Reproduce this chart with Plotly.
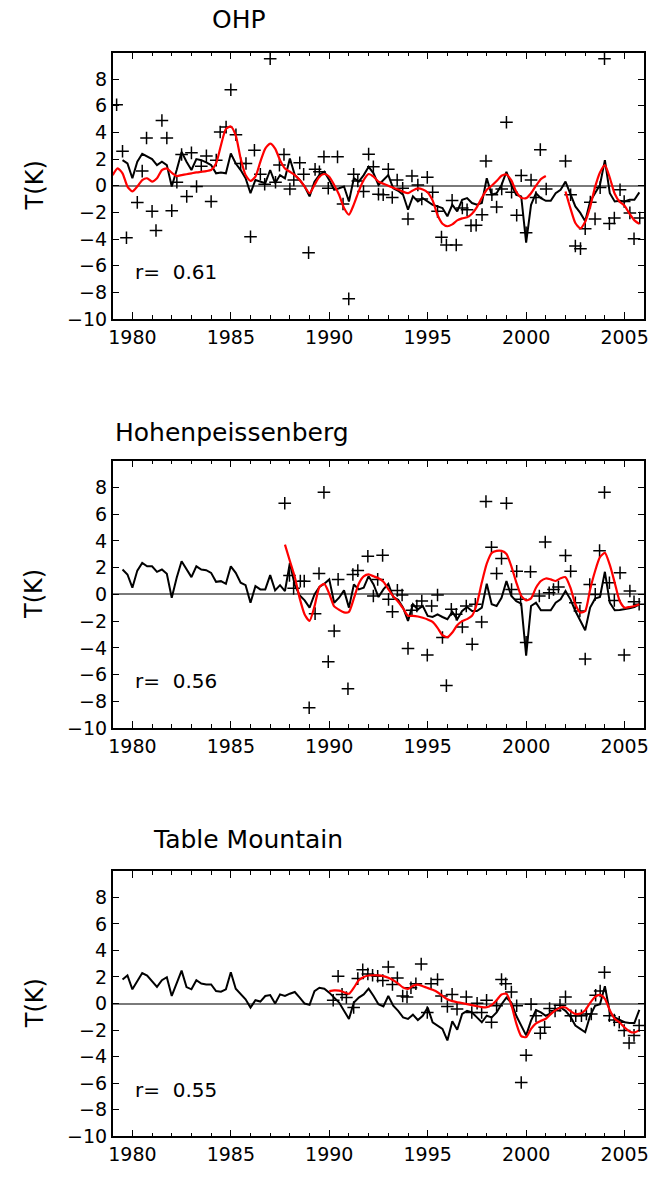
import numpy as np
import plotly.graph_objects as go

# ---------------- DATA ----------------
station_names = ["OHP", "Hohenpeissenberg", "Table Mountain"]
r_values = ["0.61", "0.56", "0.55"]

model_start = 1979.5
model_step = 0.25

ohp_model = [1.92, 1.67, 0.56, 1.8, 2.4, 2.17, 2.0, 1.55, 1.8, 1.55, -0.06, 1.18, 2.54, 1.8, 1.18, 2.0,
             1.92, 1.75, 1.55, 0.93, 1.0, 0.93, 2.42, 1.67, 1.18, 0.56, -0.56, 0.43, 0.31, 0.19, 1.18, 0.19,
             0.8, 0.56, 2.04, 0.8, 0.43, -0.06, -0.8, 0.31, 0.8, 1.05, 0.43, -0.3, -0.19, -0.06, -1.18, 0.56,
             0.31, 0.8, 1.42, 0.93, 0.06, 0.43, 0.8, -0.19, -0.38,
             -0.68, -1.8, -0.8, -1.18, -0.93, -1.18, -1.43, -1.55, -1.67, -2.29, -1.43, -1.92, -1.05, -0.93,
             -1.3, -1.43, -1.3, 0.56, -0.68, -0.56, 0.06, 1.05, 0.06, -0.68, -0.8, -4.27, -1.43, -0.56, -0.93,
             -1.13, -1.13, -0.56, -0.3, 0.31, -0.56, -1.55, -2.04, -2.66, -1.18, -0.56, 0.06, 1.92, -0.56,
             -1.18, -1.13, -1.18, -1.05, -1.05, -0.5]

hoh_model = [1.86, 1.49, 0.5, 1.78, 2.35, 2.1, 2.1, 1.69, 1.86, 1.54, -0.25, 1.24, 2.48, 1.91, 1.29, 2.1,
             1.86, 1.81, 1.61, 0.94, 0.99, 0.79, 2.1, 1.61, 0.87, 0.69, -0.62, 0.62, 0.37, 0.37, 1.44, 0.3,
             0.69, 0.25, 2.35, 0.69, -0.07, -0.45, -0.99, 0.0, 0.55, 0.79, 1.12, -0.62, -0.25, 0.3, -0.99,
             0.74, 0.37, 0.5, 1.36, 0.74, -0.2, 0.37, 0.79, -0.2, -0.4,
             -0.99, -1.98, -0.74, -1.12, -0.87, -1.61, -1.69, -1.49, -1.69, -1.86, -1.31, -1.86, -1.24, -0.94,
             -1.24, -1.24, -0.99, 0.79, -0.74, -0.87, -0.25, 0.99, -0.12, -0.5, -0.69, -4.58, -0.87, -0.62,
             -1.19, -1.19, -1.19, -0.62, -0.37, 0.25, -0.37, -1.24, -1.98, -2.68, -0.99, -0.32, -0.2, 1.69,
             -0.62, -1.19, -1.16, -1.12, -1.04, -0.94, -0.74]

tm_model = [1.81, 2.11, 1.07, 1.64, 2.3, 2.11, 1.69, 1.26, 1.76, 1.98, 0.57, 1.56, 2.48, 1.24, 1.07, 1.76,
            1.51, 1.44, 1.44, 0.94, 0.89, 1.07, 2.35, 1.12, 0.69, 0.32, -0.3, 0.25, 0.15, 0.57, 0.64, 0.0,
            0.69, 0.57, 0.74, 0.87, 0.45, 0.0, -0.1, 0.94, 1.19, 1.12, 0.82, 0.45, 0.07, -0.55, -1.16, 0.07,
            0.45, 0.69, 1.12, 0.57, -0.05, -0.22, 0.57, -0.17, -0.55,
            -1.04, -1.16, -0.84, -1.24, -0.92, -0.3, -1.41, -1.66, -1.91, -2.78, -1.34, -1.98, -0.79, -0.55,
            -0.67, -1.04, -1.41, -0.92, -1.04, -0.67, -0.05, 0.45, 0.07, -0.92, -1.66, -2.4, -1.29, -0.5,
            -0.67, -0.92, -0.74, -0.42, -0.3, -0.55, -0.99, -1.66, -1.91, -2.16, -0.92, -0.17, -0.05, 1.31,
            -0.67, -1.04, -1.24, -1.41, -1.46, -1.46, -0.47]

# smoothed observations (red); None marks a data gap
ohp_smooth_years = [1979.0, 1979.25, 1979.5, 1979.75, 1980.0, 1980.25, 1980.5, 1980.75, 1981.0, 1981.25,
                    1981.5, 1981.75, 1982.0, 1982.25, 1982.5, 1982.75, 1983.0, 1983.25, 1983.5, 1983.75,
                    1984.0, 1984.25, 1984.5, 1984.75, 1985.0, 1985.25, 1985.5, 1985.75, 1986.0, 1986.25,
                    1986.5, 1986.75, 1987.0, 1987.25, 1987.5, 1987.75, 1988.0, 1988.25, 1988.5, 1988.75,
                    1989.0, 1989.25, 1989.5, 1989.75, 1990.0, 1990.25, 1990.5, 1990.75, 1991.0, 1991.25,
                    1991.5, 1991.75, 1992.0, 1992.25, 1992.5, 1992.75, 1993.0, 1993.25, 1993.5, 1993.75,
                    1994.0, 1994.25, 1994.5, 1994.75, 1995.0, 1995.25, 1995.5, 1995.75, 1996.0, 1996.25,
                    1996.5, 1996.75, 1997.0, 1997.25, 1997.5, 1997.75, 1998.0, 1998.25, 1998.5, 1998.75,
                    1999.0, 1999.25, 1999.5, 1999.75, 2000.0, 2000.25, 2000.5, 2000.75, 2001.0, 2001.5,
                    2002.0, 2002.25, 2002.5, 2002.75, 2003.0, 2003.25, 2003.5, 2003.75, 2004.0, 2004.25,
                    2004.5, 2004.75, 2005.0, 2005.25, 2005.5, 2005.75]
ohp_smooth = [0.8, 1.3, 0.93, -0.06, -0.43, -0.06, 0.43, 0.56, 0.31, 0.56,
              1.18, 1.3, 0.98, 0.73, 0.8, 0.86, 0.93, 1.0, 1.05, 1.1,
              1.18, 1.67, 3.04, 4.27, 4.45, 3.78, 2.04, 0.8, 0.36, 0.68,
              1.8, 2.79, 3.16, 2.79, 1.92, 1.3, 1.05, 0.8, 0.43, -0.06,
              -0.56, 0.06, 0.68, 0.88, 0.68, 0.06, -0.68, -1.67, -2.17, -1.4,
              -0.4, 0.43, 0.88, 0.68, 0.31, 0.15, 0.0, -0.15, -0.28, -0.45,
              -0.56, -0.35, -0.2, -0.28, -0.5, -1.1, -2.2, -2.85, -3.04, -2.9,
              -2.6, -2.45, -2.37, -2.1, -1.6, -0.9, -0.3, 0.0, 0.35, 0.75,
              0.85, 0.4, -0.45, -0.9, -0.93, -0.56, 0.0, 0.5, 0.73, None,
              -0.43, -1.7, -2.8, -3.2, -2.7, -1.6, -0.1, 1.0, 1.55, 0.6,
              -0.6, -1.2, -1.5, -2.1, -2.6, -2.86]

hoh_smooth_years = [1987.75, 1988.0, 1988.25, 1988.5, 1988.75, 1989.0, 1989.25, 1989.5, 1989.75, 1990.0,
                    1990.25, 1990.5, 1990.75, 1991.0, 1991.25, 1991.5, 1991.75, 1992.0, 1992.25, 1992.5,
                    1992.75, 1993.0, 1993.25, 1993.5, 1993.75, 1994.0, 1994.25, 1994.5, 1994.75, 1995.0,
                    1995.25, 1995.5, 1995.75, 1996.0, 1996.25, 1996.5, 1996.75, 1997.0, 1997.25, 1997.5,
                    1997.75, 1998.0, 1998.25, 1998.5, 1998.75, 1999.0, 1999.25, 1999.5, 1999.75, 2000.0,
                    2000.25, 2000.5, 2000.75, 2001.0, 2001.25, 2001.5, 2001.75, 2002.0, 2002.25, 2002.5,
                    2002.75, 2003.0, 2003.25, 2003.5, 2003.75, 2004.0, 2004.25, 2004.5, 2004.75, 2005.0,
                    2005.25, 2005.5, 2005.75]
hoh_smooth = [3.72, 2.5, 1.3, -0.3, -1.5, -1.98, -0.9, 0.55, 0.79, 0.05,
              -0.9, -1.15, -1.35, -1.31, -0.3, 0.8, 1.35, 1.49, 1.35, 1.2,
              0.95, 0.4, -0.15, -0.55, -1.05, -1.6, -1.6, -1.65, -1.75, -1.88,
              -2.05, -2.5, -3.05, -3.2, -2.85, -2.3, -2.0, -1.85, -1.6, -0.7,
              0.9, 2.3, 3.1, 3.25, 3.25, 3.02, 2.1, 0.9, -0.1, -0.45,
              -0.3, 0.5, 1.0, 1.19, 1.12, 1.0, 1.2, 1.29, 0.5, -0.74,
              -1.36, -1.24, 0.37, 1.73, 2.78, 3.1, 2.2, 0.87, -0.5, -0.99,
              -0.94, -0.87, -0.74]

tm_smooth_years = [1990.0, 1990.25, 1990.5, 1990.75, 1991.0, 1991.25, 1991.5, 1991.75, 1992.0, 1992.25,
                   1992.5, 1992.75, 1993.0, 1993.25, 1993.5, 1993.75, 1994.0, 1994.25, 1994.5, 1994.75,
                   1995.0, 1995.25, 1995.5, 1995.75, 1996.0, 1996.25, 1996.5, 1996.75, 1997.0, 1997.25,
                   1997.5, 1997.75, 1998.0, 1998.25, 1998.5, 1998.75, 1999.0, 1999.25, 1999.5, 1999.75,
                   2000.0, 2000.25, 2000.5, 2000.75, 2001.0, 2001.25, 2001.5, 2001.75, 2002.0, 2002.25,
                   2002.5, 2002.75, 2003.0, 2003.25, 2003.5, 2003.75, 2004.0, 2004.25, 2004.5, 2004.75,
                   2005.0, 2005.25, 2005.5, 2005.75]
tm_smooth = [0.94, 0.99, 0.97, 0.85, 0.74, 1.2, 1.75, 2.0, 2.11, 2.13,
             2.12, 2.07, 1.95, 1.75, 1.5, 1.2, 1.1, 1.33, 1.43, 1.3,
             1.17, 1.03, 0.85, 0.58, 0.33, 0.18, 0.1, 0.03, -0.04, -0.12,
             -0.2, -0.27, -0.28, -0.1, 0.25, 0.68, 0.74, -0.1, -1.5, -2.45,
             -2.53, -1.91, -1.49, -1.3, -1.15, -0.8, -0.5, -0.3, -0.3, -0.57,
             -0.78, -0.76, -0.5, 0.05, 0.5, 0.65, 0.35, -0.5, -1.15, -1.43,
             -1.8, -2.1, -2.18, -2.0]

# individual observations (crosses)
ohp_obs_years = [1979.2, 1979.5, 1979.7, 1980.25, 1980.5, 1980.72, 1981.0, 1981.2, 1981.5, 1981.75,
                 1982.0, 1982.26, 1982.5, 1982.76, 1983.0, 1983.26, 1983.5, 1983.76, 1984.0, 1984.26,
                 1984.46, 1984.76, 1985.0, 1985.26, 1985.5, 1985.77, 1986.0, 1986.2, 1986.5, 1986.72,
                 1987.0, 1987.27, 1987.47, 1987.7, 1988.0, 1988.2, 1988.5, 1988.7, 1988.95, 1989.28,
                 1989.5, 1989.73, 1989.95, 1990.42, 1990.7, 1990.99, 1991.24, 1991.45, 1991.74, 1992.0,
                 1992.24, 1992.5, 1992.74, 1993.0, 1993.2, 1993.45, 1993.73, 1994.0, 1994.2, 1994.5,
                 1994.7, 1994.98, 1995.25, 1995.5, 1995.7, 1995.95, 1996.24, 1996.45, 1996.76, 1997.0,
                 1997.2, 1997.46, 1997.76, 1997.96, 1998.26, 1998.5, 1998.76, 1999.0, 1999.26, 1999.52,
                 1999.75, 2000.0, 2000.25, 2000.5, 2000.72, 2001.02, 2002.0, 2002.26, 2002.5, 2002.76,
                 2003.0, 2003.26, 2003.5, 2003.76, 2003.98, 2004.23, 2004.48, 2004.77, 2004.98, 2005.27,
                 2005.48, 2005.77]
ohp_obs = [6.08, 2.59, -3.9, -1.25, 1.1, 3.58, -1.92, -3.36, 4.9, 3.58,
           -1.87, 0.26, 2.34, -0.8, 2.47, -0.06, 1.47, 2.24, -1.18, 1.92,
           4.03, 4.4, 7.2, 3.83, 1.67, 1.67, -3.83, 2.66, 0.86, 0.11,
           9.53, 0.26, 1.55, 2.34, -0.24, 0.43, 1.72, 0.86, -5.02, 1.23,
           1.05, 2.17, -0.19, 2.17, -1.37, -8.49, 0.86, 0.36, -0.43, 2.37,
           1.42, -0.63, -0.68, 1.23, -0.88, 0.43, -0.19, -2.49, 0.73, 0.06,
           -1.0, 0.63, -0.48, -1.92, -3.86, -4.45, -1.1, -4.45, -1.67, -1.8,
           -2.99, -2.96, -2.17, 1.85, -0.68, -1.6, -0.24, 4.77, -0.48, -2.22,
           0.76, -3.53, 0.43, -0.88, 2.71, -0.24, 1.85, -0.68, -4.52, -4.72,
           -3.23, -1.23, -2.49, -0.14, 9.53, -2.84, -2.42, -0.3, -1.18, -2.04,
           -3.98, -2.42]

hoh_obs_years = [1987.74, 1987.98, 1988.19, 1988.53, 1988.73, 1988.98, 1989.28, 1989.48, 1989.73, 1989.95,
                 1990.25, 1990.45, 1990.95, 1991.2, 1991.45, 1991.96, 1992.24, 1992.46, 1992.71, 1993.01,
                 1993.21, 1993.46, 1993.7, 1994.0, 1994.2, 1994.45, 1994.7, 1994.98, 1995.2, 1995.5,
                 1995.75, 1995.95, 1996.2, 1996.45, 1996.76, 1996.96, 1997.26, 1997.42, 1997.74, 1997.96,
                 1998.24, 1998.5, 1998.75, 1999.0, 1999.26, 1999.52, 1999.72, 2000.0, 2000.22, 2000.67,
                 2000.97, 2001.17, 2001.39, 2001.64, 2002.0, 2002.26, 2002.5, 2002.73, 2003.0, 2003.23,
                 2003.51, 2003.73, 2003.98, 2004.23, 2004.48, 2004.77, 2004.98, 2005.27, 2005.48, 2005.74]
hoh_obs = [6.82, 1.41, 0.45, 0.99, 0.99, -8.48, -1.44, 1.56, 7.63, -5.03,
           -2.73, 1.12, -7.06, 1.49, 1.78, 2.85, -0.12, 1.12, 2.92, -0.37,
           -1.29, 0.3, -0.05, -4.04, -1.19, -0.87, -0.5, -4.54, -0.87, -0.05,
           -3.22, -6.82, -1.12, -1.49, -2.43, -0.87, -3.72, -0.74, -2.06, 6.94,
           3.52, 1.56, 2.68, 6.82, 0.37, 1.73, -0.37, -3.59, 1.69, -0.12,
           3.92, 0.12, 0.37, 0.55, 2.9, 1.73, -0.62, -1.24, -4.83, 0.74,
           0.0, 3.27, 7.63, 0.87, -0.45, 1.61, -4.54, 0.25, -0.55, -0.74]

tm_obs_years = [1990.2, 1990.45, 1990.65, 1990.87, 1991.24, 1991.45, 1991.7, 1991.96, 1992.2, 1992.46,
                1992.72, 1993.0, 1993.21, 1993.46, 1993.73, 1993.95, 1994.15, 1994.4, 1994.67, 1994.98,
                1995.17, 1995.5, 1995.7, 1996.0, 1996.24, 1996.49, 1996.96, 1997.24, 1997.51, 1997.74,
                1997.99, 1998.24, 1998.5, 1998.75, 1998.96, 1999.25, 1999.52, 1999.75, 2000.0, 2000.25,
                2000.5, 2000.72, 2000.94, 2001.19, 2001.47, 2001.72, 2002.0, 2002.27, 2002.52, 2002.81,
                2003.06, 2003.31, 2003.53, 2003.76, 2003.98, 2004.23, 2004.48, 2004.73, 2004.98, 2005.23,
                2005.48, 2005.74]
tm_obs = [0.25, 2.06, 0.69, 0.45, -0.3, 1.88, 2.55, 2.23, 2.13, 2.06,
          1.73, 2.75, 1.44, 1.93, 0.57, 0.5, 1.19, 1.49, 2.97, -0.67,
          1.49, 1.81, 0.57, -0.22, 0.69, -0.42, 0.5, -0.67, 0.02, -0.67,
          0.25, -1.41, -0.17, 1.81, 1.49, 0.87, -0.17, -5.95, -3.89, -0.05,
          -0.92, -2.23, -1.78, -0.37, -0.55, -0.12, 0.5, -0.92, -0.92, -0.92,
          -0.79, -0.79, 0.62, 0.94, 2.35, -0.92, -1.24, -1.41, -2.03, -2.97,
          -2.4, -1.66]

x_tick_vals = [1980, 1985, 1990, 1995, 2000, 2005]
y_tick_vals = [-10, -8, -6, -4, -2, 0, 2, 4, 6, 8]

# ---------------- FIGURE ----------------
W, H = 670, 1177
FONT = "DejaVu Sans"

models = [ohp_model, hoh_model, tm_model]
smooth_x = [ohp_smooth_years, hoh_smooth_years, tm_smooth_years]
smooth_y = [ohp_smooth, hoh_smooth, tm_smooth]
obs_x = [ohp_obs_years, hoh_obs_years, tm_obs_years]
obs_y = [ohp_obs, hoh_obs, tm_obs]

# panel boxes in window pixels
left_px, right_px = 110, 648
panels_px = [(53, 322), (465, 735), (879, 1147)]
title_pos = [(238, 20), (231, 437), (247, 847)]


def px_x(p):
    return p / W


def px_y(p):
    return 1 - p / H


fig = go.Figure()

for i in range(3):
    xa = "x" if i == 0 else f"x{i+1}"
    ya = "y" if i == 0 else f"y{i+1}"
    mx = model_start + model_step * np.arange(len(models[i]))
    fig.add_trace(go.Scatter(x=obs_x[i], y=obs_y[i], mode="markers", xaxis=xa, yaxis=ya,
                             marker=dict(symbol="cross-thin", size=9, color="black",
                                         line=dict(color="black", width=1.5))))
    fig.add_trace(go.Scatter(x=mx, y=models[i], mode="lines", xaxis=xa, yaxis=ya,
                             line=dict(color="black", width=2)))
    fig.add_trace(go.Scatter(x=smooth_x[i], y=smooth_y[i], mode="lines", xaxis=xa, yaxis=ya,
                             connectgaps=False,
                             line=dict(color="#ff0000", width=2.2, shape="spline", smoothing=0.6)))

layout = dict(width=W, height=H, margin=dict(l=0, r=0, t=0, b=0),
              plot_bgcolor="white", paper_bgcolor="white", showlegend=False,
              font=dict(family=FONT, color="black"))

annotations = []
for i in range(3):
    top, bot = panels_px[i]
    xk = "xaxis" if i == 0 else f"xaxis{i+1}"
    yk = "yaxis" if i == 0 else f"yaxis{i+1}"
    ya = "y" if i == 0 else f"y{i+1}"
    xref = "x" if i == 0 else f"x{i+1}"
    layout[xk] = dict(domain=[px_x(left_px), px_x(right_px)], anchor=ya, range=[1979, 2006],
                      showline=True, linecolor="black", linewidth=1.5, mirror="allticks",
                      ticks="inside", ticklen=7, tickwidth=1.3, tickcolor="black",
                      tickmode="linear", tick0=x_tick_vals[0], dtick=x_tick_vals[1] - x_tick_vals[0],
                      minor=dict(dtick=1, tick0=1979, ticks="inside", ticklen=4, tickwidth=1.1,
                                 tickcolor="black", showgrid=False),
                      showgrid=False, zeroline=False,
                      tickfont=dict(family=FONT, size=19, color="black"))
    layout[yk] = dict(domain=[px_y(bot), px_y(top)], anchor=xref, range=[-10, 10],
                      showline=True, linecolor="black", linewidth=1.5, mirror="allticks",
                      ticks="inside", ticklen=7, tickwidth=1.3, tickcolor="black",
                      tickvals=y_tick_vals, showgrid=False,
                      zeroline=True, zerolinecolor="#7a7a7a", zerolinewidth=1.5,
                      tickfont=dict(family=FONT, size=19, color="black"))
    tx, ty = title_pos[i]
    annotations.append(dict(text=station_names[i], xref="paper", yref="paper",
                            x=px_x(tx), y=px_y(ty), xanchor="center", yanchor="middle",
                            showarrow=False, font=dict(family=FONT, size=25, color="black")))
    annotations.append(dict(text="T(K)", xref="paper", yref="paper", textangle=-90,
                            x=px_x(31), y=px_y((top + bot) / 2), xanchor="center", yanchor="middle",
                            showarrow=False, font=dict(family=FONT, size=24, color="black")))
    annotations.append(dict(text="r=\u00a0\u00a0" + r_values[i], xref=xref, yref=ya,
                            x=1980.05, y=-6.5, xanchor="left", yanchor="middle",
                            showarrow=False, font=dict(family=FONT, size=20, color="black")))

layout["annotations"] = annotations
fig.update_layout(**layout)
# remove the browser's default 8px page margin so the figure fills the window exactly
fig.write_html("out.html", config={"displayModeBar": False},
               post_script="document.body.style.margin='0';")
